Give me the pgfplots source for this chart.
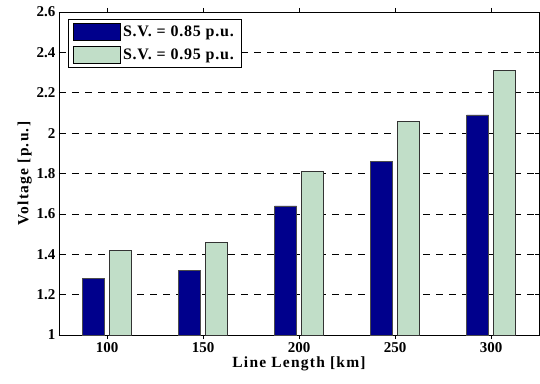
\documentclass[border=0pt]{standalone}
\usepackage{fontspec}
\setmainfont{Liberation Serif}
\newfontfamily\lsA[LetterSpace=8]{Liberation Serif}
\newfontfamily\lsB[LetterSpace=5]{Liberation Serif}
\usepackage{pgfplots}
\pgfplotsset{compat=1.18}
\definecolor{sva}{RGB}{0,0,140}
\definecolor{svb}{RGB}{193,222,200}
\begin{document}
\begin{tikzpicture}
\useasboundingbox (-59pt,-48pt) rectangle (481pt,335pt);
\begin{axis}[
  at={(0,0)}, anchor=south west,
  scale only axis, width=480pt, height=323pt,
  xmin=-0.5, xmax=4.5, ymin=1, ymax=2.6,
  xtick={0,1,2,3,4}, xticklabels={100,150,200,250,300},
  ytick={1,1.2,...,2.6},
  yticklabels={1,1.2,1.4,1.6,1.8,2,2.2,2.4,2.6},
  tick align=inside, xtick pos=both, ytick pos=both,
  major tick length=4pt,
  ymajorgrids, major grid style={black, dash pattern=on 7pt off 6pt, line width=0.6pt},
  axis line style={black, line width=0.8pt},
  tick style={black, line width=0.6pt},
  ticklabel style={font=\fontsize{15}{16}\selectfont\bfseries},
  /pgf/number format/assume math mode=true,
  xlabel={Line Length [km]}, ylabel={Voltage [p.u.]},
  label style={font=\lsA\fontsize{15.5}{17}\selectfont\bfseries},
  xlabel style={yshift=3pt},
  ylabel style={yshift=-2pt},
  legend style={at={(9pt,316pt)}, anchor=north west, font=\lsB\fontsize{16}{18}\selectfont\bfseries,
    draw=black, line width=0.8pt, inner xsep=5pt, inner ysep=4pt, row sep=5pt, cells={anchor=west}},
  ybar, bar width=22pt,
]
\addplot[fill=sva, draw=black!70, line width=0.6pt, bar shift=-13.5pt,
  legend image code/.code={\draw[fill=sva, draw=black, line width=0.6pt] (0pt,-8.5pt) rectangle (47pt,8.5pt);}]
  coordinates {(0,1.28) (1,1.32) (2,1.64) (3,1.86) (4,2.09)};
\addplot[fill=svb, draw=black!80, line width=0.6pt, bar shift=13.5pt,
  legend image code/.code={\draw[fill=svb, draw=black, line width=0.6pt] (0pt,-8.5pt) rectangle (47pt,8.5pt);}]
  coordinates {(0,1.42) (1,1.46) (2,1.81) (3,2.06) (4,2.31)};
\legend{S.V. = 0.85 p.u., S.V. = 0.95 p.u.}
\end{axis}
\end{tikzpicture}
\end{document}
